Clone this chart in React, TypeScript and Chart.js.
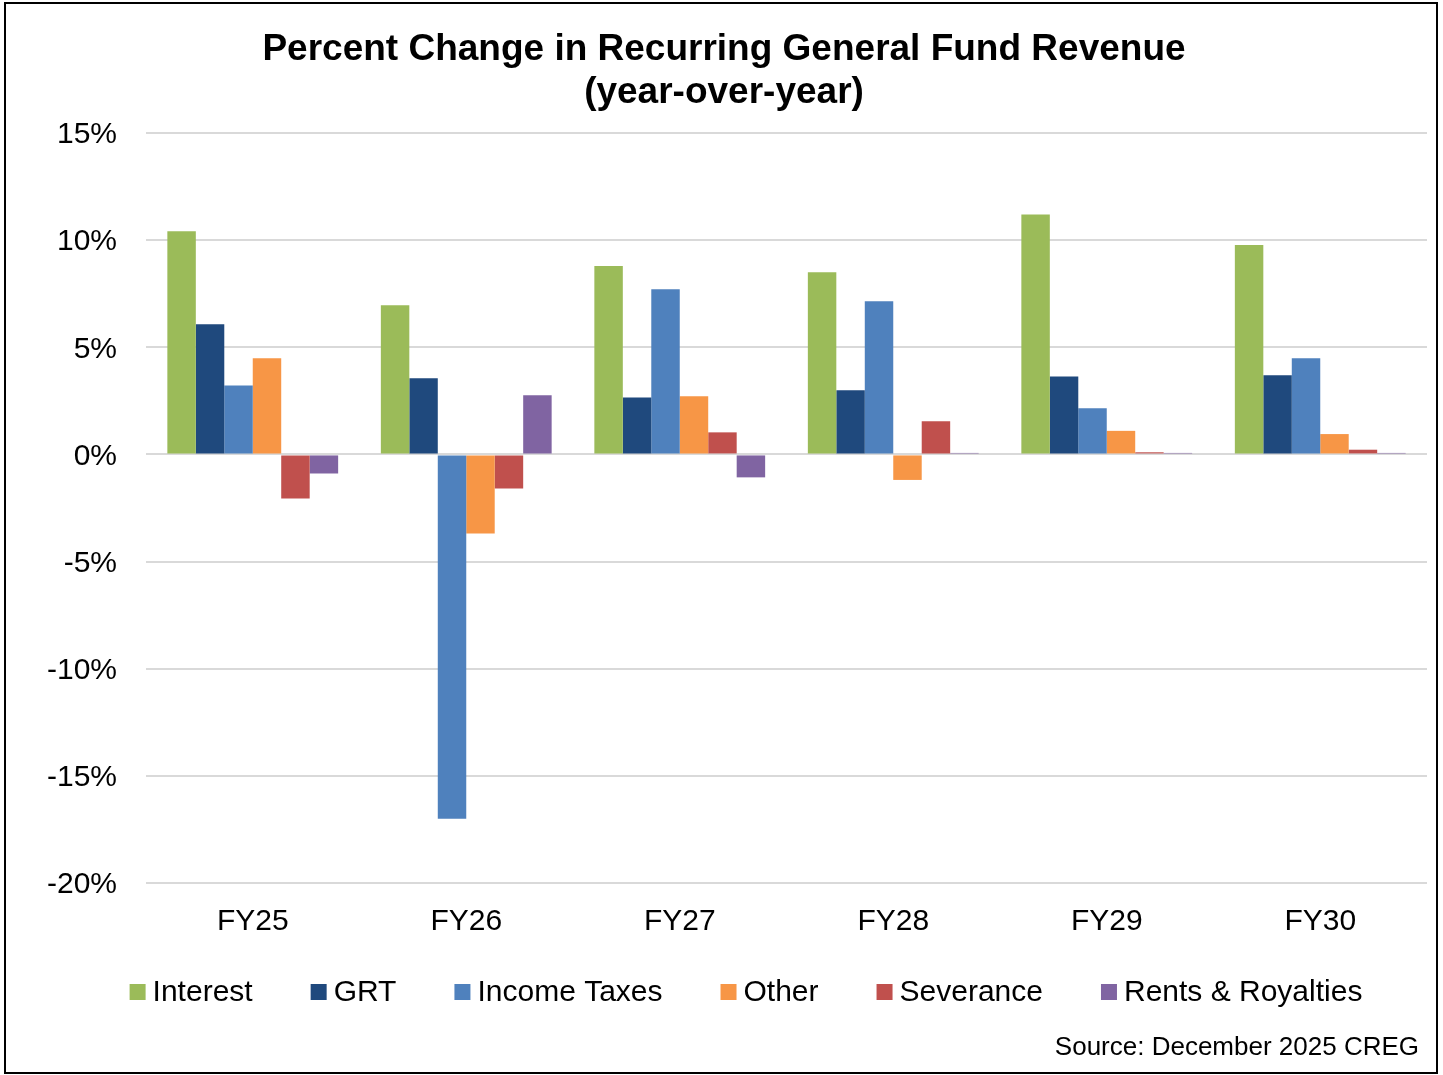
import React, { useEffect, useRef } from "react";
import { Chart, registerables } from "chart.js";

Chart.register(...registerables);

const categories = ["FY25", "FY26", "FY27", "FY28", "FY29", "FY30"];
const interest = [10.42, 6.96, 8.79, 8.5, 11.2, 9.77];
const grt = [6.07, 3.55, 2.66, 2.99, 3.64, 3.69];
const incomeTaxes = [3.22, -17.0, 7.71, 7.15, 2.15, 4.49];
const other = [4.49, -3.69, 2.71, -1.19, 1.1, 0.95];
const severance = [-2.06, -1.59, 1.03, 1.55, 0.1, 0.22];
const rentsRoyalties = [-0.89, 2.76, -1.07, 0.07, 0.07, 0.07];
const yTicks = [15, 10, 5, 0, -5, -10, -15, -20];

const seriesNames = ["Interest", "GRT", "Income Taxes", "Other", "Severance", "Rents & Royalties"];
const seriesColors = ["#9BBB59", "#1F497D", "#4F81BD", "#F79646", "#C0504D", "#8064A2"];
const seriesData = [interest, grt, incomeTaxes, other, severance, rentsRoyalties];

const titleLines = ["Percent Change in Recurring General Fund Revenue", "(year-over-year)"];
const sourceText = "Source: December 2025 CREG";

const FONT = "'Liberation Sans', Arial, sans-serif";

const decorPlugin = {
  id: "decor",
  afterDraw(chart: any) {
    const ctx = chart.ctx;
    ctx.save();
    // border
    ctx.strokeStyle = "#000";
    ctx.lineWidth = 2;
    ctx.strokeRect(5, 3, 1432, 1070);
    // title
    ctx.fillStyle = "#000";
    ctx.font = `bold 37px ${FONT}`;
    ctx.textAlign = "center";
    ctx.textBaseline = "middle";
    ctx.fillText(titleLines[0], 724, 50);
    ctx.fillText(titleLines[1], 724, 93);
    // legend
    ctx.font = `30px ${FONT}`;
    const box = 16;
    const gapText = 7;
    const gapItem = 58;
    const widths = seriesNames.map((n) => box + gapText + ctx.measureText(n).width);
    const total = widths.reduce((a, b) => a + b, 0) + gapItem * (widths.length - 1);
    let x = 746 - total / 2;
    const ly = 993;
    ctx.textAlign = "left";
    seriesNames.forEach((n, i) => {
      ctx.fillStyle = seriesColors[i];
      ctx.fillRect(x, ly - box / 2 - 1, box, box);
      ctx.fillStyle = "#000";
      ctx.fillText(n, x + box + gapText, ly);
      x += widths[i] + gapItem;
    });
    // source
    ctx.font = `26px ${FONT}`;
    ctx.textAlign = "right";
    ctx.fillText(sourceText, 1419, 1048);
    ctx.restore();
  },
};

export default function App() {
  const ref = useRef<HTMLCanvasElement>(null);
  useEffect(() => {
    document.body.style.margin = "0";
    const chart = new Chart(ref.current!, {
      type: "bar",
      data: {
        labels: categories,
        datasets: seriesNames.map((n, i) => ({
          label: n,
          data: seriesData[i],
          backgroundColor: seriesColors[i],
          borderWidth: 0,
          categoryPercentage: 0.8,
          barPercentage: 1.0,
        })),
      },
      options: {
        animation: false,
        responsive: false,
        maintainAspectRatio: false,
        layout: { padding: { left: 0, right: 16, top: 133, bottom: 0 } },
        plugins: {
          legend: { display: false },
          title: { display: false },
          tooltip: { enabled: false },
        },
        scales: {
          x: {
            grid: { display: false, drawTicks: false },
            border: { display: false },
            ticks: { color: "#000", font: { family: FONT, size: 30 }, padding: 21 },
            afterFit: (s: any) => {
              s.height = 192;
            },
          },
          y: {
            min: -20,
            max: 15,
            afterBuildTicks: (s: any) => {
              s.ticks = yTicks.map((v) => ({ value: v }));
            },
            grid: { color: "#d9d9d9", lineWidth: 2, drawTicks: false },
            border: { display: false },
            ticks: {
              color: "#000",
              font: { family: FONT, size: 30 },
              padding: 29,
              labelOffset: 2,
              callback: (v: any) => `${v}%`,
            },
            afterFit: (s: any) => {
              s.width = 146;
            },
          },
        },
      },
      plugins: [decorPlugin],
    });
    return () => chart.destroy();
  }, []);
  return (
    <div style={{ width: 1443, height: 1075, background: "#fff" }}>
      <canvas ref={ref} width={1443} height={1075} style={{ display: "block" }} />
    </div>
  );
}
